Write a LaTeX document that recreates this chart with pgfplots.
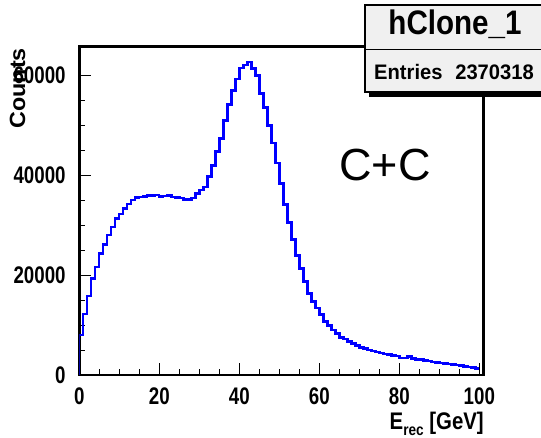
\documentclass[border=0pt]{standalone}
\usepackage{fontspec}
\usepackage{pgfplots}
\usepackage{pgfplotstable}
\pgfplotsset{compat=1.18}
\setmainfont{Liberation Sans}
\newfontfamily\tickfont{Liberation Sans}[FakeStretch=0.78]
\newfontfamily\labfont{Liberation Sans}[FakeStretch=0.85]
\newfontfamily\ylabfont{Liberation Sans}[FakeStretch=1.06]
\newfontfamily\titfont{Liberation Sans}[FakeStretch=0.87]
\newfontfamily\statfont{Liberation Sans}[FakeStretch=0.96]
\definecolor{statbg}{RGB}{240,240,240}

\pgfplotstableread{
x y
0 0
0 8000
1 12200
2 15800
3 19300
4 21600
5 24300
6 26100
7 28000
8 29600
9 31300
10 32200
11 33300
12 34200
13 35000
14 35500
15 35600
16 35700
17 35900
18 35900
19 36000
20 35700
21 35800
22 35900
23 35600
24 35500
25 35400
26 35100
27 35100
28 35400
29 36300
30 37000
31 37600
32 39700
33 41900
34 44700
35 47300
36 50900
37 54100
38 56900
39 59200
40 61400
41 62000
42 62600
43 61300
44 59900
45 56300
46 53500
47 49900
48 46400
49 42400
50 38300
51 34100
52 30500
53 27100
54 23900
55 21300
56 18700
57 16300
58 14700
59 13400
60 12100
61 10700
62 9900
63 9000
64 8300
65 7500
66 7200
67 6700
68 6300
69 5900
70 5500
71 5300
72 5000
73 4800
74 4600
75 4400
76 4200
77 4100
78 3900
79 3800
80 3400
81 3400
82 3700
83 3300
84 3100
85 3100
86 2900
87 2800
88 2600
89 2500
90 2400
91 2300
92 2200
93 2100
94 2000
95 1900
96 1700
97 1600
98 1500
99 1300
100 1300
}\histdata

\begin{document}
\begin{tikzpicture}
\useasboundingbox (0,0) rectangle (541pt,438pt);
\begin{axis}[
  at={(79.3pt,63pt)}, anchor=south west,
  scale only axis, width=404pt, height=328.3pt,
  xmin=0, xmax=101, ymin=0, ymax=65660,
  xtick={0,20,40,60,80,100}, minor x tick num=3,
  ytick={0,20000,40000,60000}, minor y tick num=3,
  xtick pos=lower, ytick pos=left, tick align=inside,
  major tick length=12pt, minor tick length=6pt,
  tick style={black, line width=0.9pt},
  axis line style={line width=2.8pt},
  scaled ticks=false,
  /pgf/number format/.cd, 1000 sep={}, assume math mode=true, /pgfplots/.cd,
  yticklabel style={font=\tickfont\bfseries\fontsize{24}{24}\selectfont, anchor=east, inner sep=0pt, xshift=-13.5pt},
  xticklabel style={font=\tickfont\bfseries\fontsize{24}{24}\selectfont, anchor=north, inner sep=0pt, yshift=-13pt},
  ylabel={Counts},
  ylabel style={font=\ylabfont\bfseries\fontsize{22}{22}\selectfont, at={(axis description cs:-0.1344,0.996)}, anchor=base east, inner sep=0pt},
  xlabel={E\raisebox{-6pt}{\fontsize{16}{16}\selectfont rec} [GeV]},
  xlabel style={font=\labfont\bfseries\fontsize{24}{24}\selectfont, at={(axis description cs:1.0017,-0.1675)}, anchor=base east, inner sep=0pt},
]
\addplot[const plot, color={rgb,255:red,0;green,0;blue,255}, line width=2.4pt] table[x=x,y=y] {\histdata};
\node[anchor=base, inner sep=0pt, font=\fontsize{45}{45}\selectfont] at (axis cs:76.4,38900) {C+C};
\end{axis}
% statistics box
\fill[black] (368.5pt,341pt) rectangle (552pt,429pt);
\filldraw[fill=statbg, draw=black, line width=1.2pt] (365pt,346pt) rectangle (548pt,433pt);
\draw[black, line width=1.2pt] (365pt,388.7pt) -- (548pt,388.7pt);
\node[anchor=base, inner sep=0pt, font=\titfont\bfseries\fontsize{34}{34}\selectfont] at (455pt,403pt) {hClone\_1};
\node[anchor=base west, inner sep=0pt, font=\statfont\bfseries\fontsize{21}{21}\selectfont] at (374pt,358pt) {Entries};
\node[anchor=base east, inner sep=0pt, font=\statfont\bfseries\fontsize{21}{21}\selectfont] at (534pt,358pt) {2370318};
\end{tikzpicture}
\end{document}
